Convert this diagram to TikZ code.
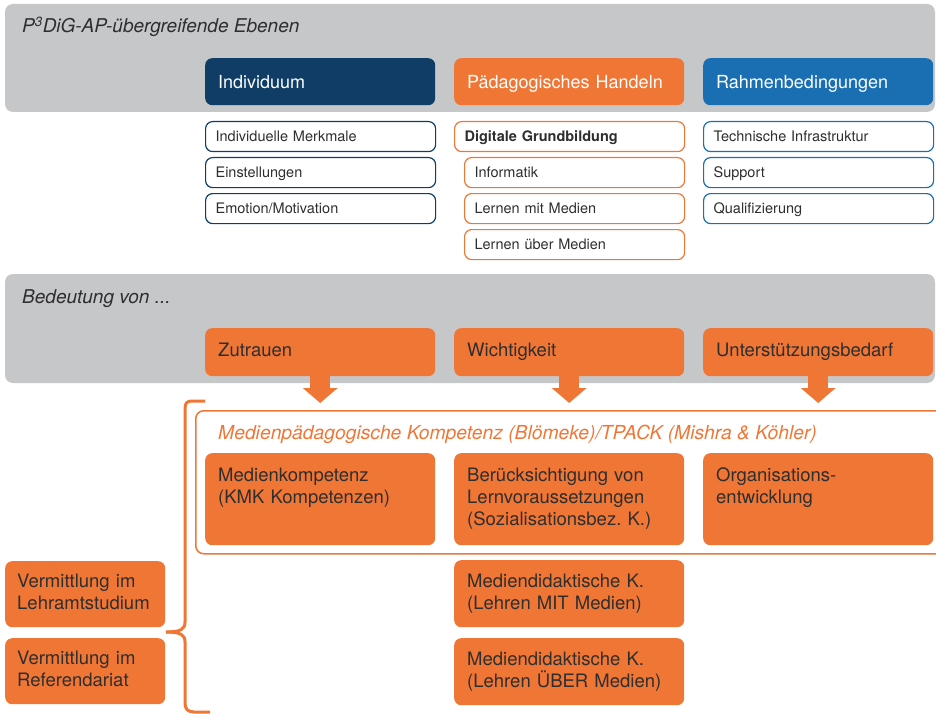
\documentclass[tikz,border=0pt]{standalone}
\usepackage{fontspec}
\setmainfont{TeX Gyre Heros}
\usetikzlibrary{arrows.meta}
\frenchspacing
\newcommand\orangeboxfont{\fontsize{18.5}{22}\selectfont\lineskiplimit=-100pt\relax}

\definecolor{bandgrey}{HTML}{C6C7C9}
\definecolor{navyI}{HTML}{0F3D66}
\definecolor{orangeP}{HTML}{F07636}
\definecolor{blueR}{HTML}{1A6EB2}
\definecolor{textdark}{HTML}{2E2E2E}

\tikzset{
  band/.style={fill=bandgrey, rounded corners=8pt},
  bandtitle/.style={anchor=base west, inner sep=0pt, text=textdark,
    font=\itshape\fontsize{19}{22}\selectfont},
  headbox/.style={anchor=north west, rounded corners=7pt, text=white,
    minimum width=230pt, minimum height=47pt, inner xsep=13pt,
    text width=204pt, align=left, font=\fontsize{18}{22}\selectfont,
    text height=13pt, text depth=0pt},
  itembox/.style={anchor=north west, draw, line width=1.2pt, rounded corners=7pt,
    minimum height=30pt, inner xsep=10pt, text width=210pt, align=left,
    text=textdark, font=\fontsize{14.5}{17}\selectfont,
    text height=10.4pt, text depth=0pt},
  orangebox/.style={anchor=north west, fill=orangeP, rounded corners=7pt,
    minimum width=230pt, inner xsep=13pt, text width=204pt, align=left,
    text=textdark, font=\orangeboxfont,
    execute at begin node=\strut, execute at end node=\strut},
  blockarrow/.style={-{Triangle[width=34pt,length=15pt]}, line width=20pt,
    draw=orangeP, shorten >=7pt},
  bracestyle/.style={draw=orangeP, line width=3pt},
}

\begin{document}
\begin{tikzpicture}[x=1pt, y=-1pt]
  \useasboundingbox (0,0) rectangle (936,714);

  % upper band
  \fill[band] (5,4) rectangle (935,112);
  \node[bandtitle] (ebenen) at (22,33) {P\textsuperscript{3}DiG-AP-übergreifende Ebenen};
  \node[headbox, fill=navyI] (indiv) at (205,58) {Individuum};
  \node[headbox, fill=orangeP] (paed) at (454,58) {Pädagogisches Handeln};
  \node[headbox, fill=blueR] (rahmen) at (703,58) {Rahmenbedingungen};

  \node[itembox, draw=navyI] (merkmale) at (205,121) {Individuelle Merkmale};
  \node[itembox, draw=navyI] (einst) at (205,157) {Einstellungen};
  \node[itembox, draw=navyI] (emotion) at (205,193) {Emotion/Motivation};

  \node[itembox, draw=orangeP, font=\bfseries\fontsize{14.5}{17}\selectfont] (grundb) at (454,121) {Digitale Grundbildung};
  \node[itembox, draw=orangeP, text width=200pt] (informatik) at (464,157) {Informatik};
  \node[itembox, draw=orangeP, text width=200pt] (lmit) at (464,193) {Lernen mit Medien};
  \node[itembox, draw=orangeP, text width=200pt] (lueber) at (464,229) {Lernen über Medien};

  \node[itembox, draw=blueR] (infra) at (703,121) {Technische Infrastruktur};
  \node[itembox, draw=blueR] (support) at (703,157) {Support};
  \node[itembox, draw=blueR] (quali) at (703,193) {Qualifizierung};

  % lower band
  \fill[band] (5,274) rectangle (935,383);
  \node[bandtitle] (bedeutung) at (22,303) {Bedeutung von ...};
  \node[orangebox, minimum height=48pt] (zutrauen) at (205,328) {Zutrauen};
  \node[orangebox, minimum height=48pt] (wichtig) at (454,328) {Wichtigkeit};
  \node[orangebox, minimum height=48pt] (unterst) at (703,328) {Unterstützungsbedarf};

  % competence frame
  \node[anchor=north west, draw=orangeP, line width=1.5pt, rounded corners=8pt,
    minimum width=760pt, minimum height=143pt] (frame) at (195,410) {};
  \node[anchor=base west, inner sep=0pt, text=orangeP,
    font=\itshape\fontsize{19.3}{22}\selectfont] (mpk) at (218,439)
    {Medienpädagogische Kompetenz (Blömeke)/TPACK (Mishra \& Köhler)};

  \draw[blockarrow] (zutrauen.south) -- (zutrauen.south |- frame.north);
  \draw[blockarrow] (wichtig.south) -- (wichtig.south |- frame.north);
  \draw[blockarrow] (unterst.south) -- (unterst.south |- frame.north);

  \node[orangebox, minimum height=92pt] (medienk) at (205,453) {Medienkompetenz\\(KMK Kompetenzen)\\~};
  \node[orangebox, minimum height=92pt] (beruecks) at (454,453) {Berücksichtigung von\\Lernvoraussetzungen\\(Sozialisationsbez. K.)};
  \node[orangebox, minimum height=92pt] (orga) at (703,453) {Organisations-\\entwicklung\\~};

  \node[orangebox, minimum height=67pt] (mdmit) at (454,560) {Mediendidaktische K.\\(Lehren MIT Medien)};
  \node[orangebox, minimum height=67pt] (mdueber) at (454,638) {Mediendidaktische K.\\(Lehren ÜBER Medien)};

  \node[orangebox, minimum width=160pt, inner xsep=12pt, text width=136pt,
    minimum height=66pt] (lehramt) at (5,561) {Vermittlung im\\Lehramtstudium};
  \node[orangebox, minimum width=160pt, inner xsep=12pt, text width=136pt,
    minimum height=66pt] (referend) at (5,638) {Vermittlung im\\Referendariat};

  % brace
  \draw[bracestyle] (205,401) -- (192,401) .. controls (187,401) and (185,403) .. (185,409)
    -- (185,622) .. controls (185,629) and (181,632) .. (166,632);
  \draw[bracestyle] (166,632) .. controls (181,632) and (185,635) .. (185,642)
    -- (185,703) .. controls (185,709) and (188,712) .. (194,712) -- (210,712);
\end{tikzpicture}
\end{document}
